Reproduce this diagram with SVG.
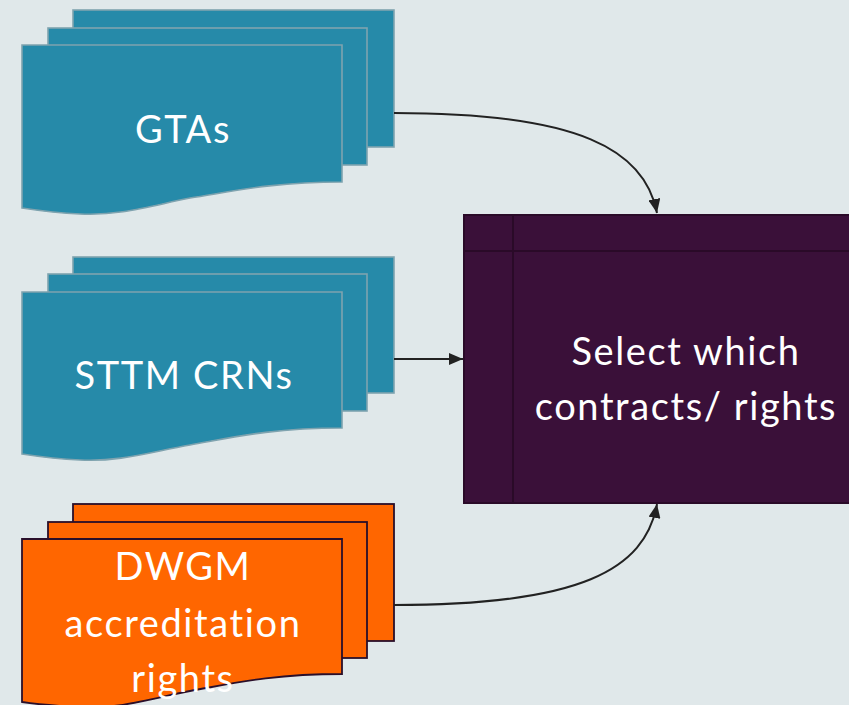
<svg xmlns="http://www.w3.org/2000/svg" width="849" height="705" viewBox="0 0 849 705">
<defs>
<style>
.bg{fill:#e0e8ea}
.teal{fill:#268aa9;stroke:#7fa3af;stroke-width:1.6}
.orange{fill:#ff6600;stroke:#2a0f2a;stroke-width:1.8}
.lbl{font-family:"Lato","Open Sans","Liberation Sans",sans-serif;font-size:38px;fill:#ffffff;text-anchor:middle;letter-spacing:1.6px;font-variant-ligatures:none}
.conn{fill:none;stroke:#222222;stroke-width:2}
.proc{fill:#3a1039;stroke:#2a0a28;stroke-width:2}
</style>
<marker id="arr" viewBox="0 0 14 12" refX="14" refY="6" markerWidth="14" markerHeight="12" markerUnits="userSpaceOnUse" orient="auto">
<path d="M0,0 L14,6 L0,12 z" fill="#222222"/>
</marker>
</defs>
<rect class="bg" x="0" y="0" width="849" height="705"/>

<g id="gtas">
<rect class="teal" x="73" y="10" width="321" height="137"/>
<rect class="teal" x="48" y="28" width="319" height="137"/>
<path class="teal" d="M22,45 H342 V182 C270,182 230,192 190,198 C150,206 120,216 80,214 C55,213 35,210 22,208 Z"/>
<text class="lbl" x="183" y="143">GTAs</text>
</g>

<g id="sttm">
<rect class="teal" x="73" y="257" width="321" height="136"/>
<rect class="teal" x="48" y="274" width="319" height="137"/>
<path class="teal" d="M22,292 H342 V428 C270,428 230,438 190,445 C150,452 120,462 80,460 C55,459 35,456 22,454 Z"/>
<text class="lbl" x="184" y="389">STTM CRNs</text>
</g>

<g id="dwgm">
<rect class="orange" x="73" y="504" width="321" height="137"/>
<rect class="orange" x="48" y="522" width="319" height="136"/>
<path class="orange" d="M22,539 H342 V674 C270,674 230,684 190,691 C150,699 120,709 80,707 C55,706 35,704 22,702 Z"/>
<text class="lbl" x="183" y="580">DWGM</text>
<text class="lbl" x="183" y="637">accreditation</text>
<text class="lbl" x="183" y="692">rights</text>
</g>

<g id="select">
<rect class="proc" x="464" y="215" width="400" height="288"/>
<line x1="513" y1="215" x2="513" y2="503" stroke="#2a0a28" stroke-width="2"/>
<line x1="464" y1="251" x2="864" y2="251" stroke="#2a0a28" stroke-width="2"/>
<text class="lbl" x="686" y="365">Select which</text>
<text class="lbl" x="686" y="420">contracts/ rights</text>
</g>

<g id="connectors">
<path class="conn" d="M394,113 C580,113 645,150 657,213" marker-end="url(#arr)"/>
<path class="conn" d="M394,359 L463,359" marker-end="url(#arr)"/>
<path class="conn" d="M394,605 C580,605 645,570 657,504" marker-end="url(#arr)"/>
</g>
</svg>
